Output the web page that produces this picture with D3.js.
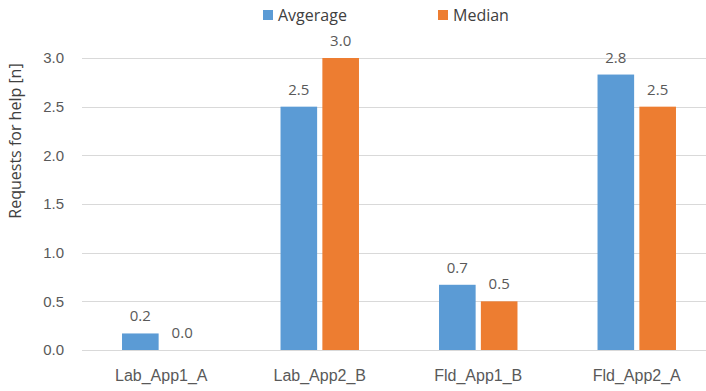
<!DOCTYPE html>
<html>
<head>
<meta charset="utf-8">
<script src="https://cdn.jsdelivr.net/npm/d3@7"></script>
<style>
  html, body { margin: 0; padding: 0; background: #fff; }
  svg { display: block; font-family: "Open Sans", "DejaVu Sans", sans-serif; }
</style>
</head>
<body>
<svg id="chart" width="706" height="391"></svg>
<script>
// Requests for help per condition
const categories = ["Lab_App1_A", "Lab_App2_B", "Fld_App1_B", "Fld_App2_A"];
const seriesNames = ["Avgerage", "Median"];
const averageValues = [0.17, 2.5, 0.67, 2.83];
const medianValues = [0.0, 3.0, 0.5, 2.5];
const yTicks = [0, 0.5, 1.0, 1.5, 2.0, 2.5, 3.0];
const colors = ["#5B9BD5", "#ED7D31"];

const seriesValues = [averageValues, medianValues];
const rows = categories.map((c, i) => ({
  category: c,
  values: seriesNames.map((s, k) => ({ series: s, key: k, value: seriesValues[k][i] }))
}));

const svg = d3.select("#chart");
const margin = { left: 82, right: -10, top: 58, bottom: 41 };
const width = 706, height = 391;
const plotW = width - margin.left - margin.right;
const plotH = height - margin.top - margin.bottom;

const x = d3.scaleBand().domain(categories).range([margin.left, margin.left + plotW]).paddingInner(0.505).paddingOuter(0.2525);
const x1 = d3.scaleBand().domain([0, 1]).range([0, x.bandwidth()]).paddingInner(0.125);
const y = d3.scaleLinear().domain([0, 3]).range([margin.top + plotH, margin.top]);

const textColor = "#595959";

// gridlines
svg.append("g").selectAll("line").data(yTicks).join("line")
  .attr("x1", margin.left).attr("x2", margin.left + plotW)
  .attr("y1", d => Math.round(y(d)) + 0.5).attr("y2", d => Math.round(y(d)) + 0.5)
  .attr("stroke", "#D9D9D9").attr("stroke-width", 1);

// y axis labels
const yAxis = d3.axisLeft(y).tickValues(yTicks).tickFormat(d3.format(".1f")).tickSize(0).tickPadding(18);
const yg = svg.append("g").attr("transform", `translate(${margin.left},0)`).call(yAxis);
yg.select(".domain").remove();
yg.selectAll("text").attr("fill", textColor).style("font-size", "15px").attr("font-family", null);

// x axis labels
const xAxis = d3.axisBottom(x).tickSize(0).tickPadding(20);
const xg = svg.append("g").attr("transform", `translate(0,${margin.top + plotH})`).call(xAxis);
xg.select(".domain").remove();
xg.selectAll("text").attr("fill", textColor).style("font-size", "16px").attr("font-family", null);

// bars
const groups = svg.append("g").selectAll("g").data(rows).join("g")
  .attr("transform", d => `translate(${x(d.category)},0)`);

groups.selectAll("rect").data(d => d.values).join("rect")
  .attr("x", d => x1(d.key))
  .attr("width", x1.bandwidth())
  .attr("y", d => y(d.value))
  .attr("height", d => y(0) - y(d.value))
  .attr("fill", d => colors[d.key]);

// value labels
groups.selectAll("text").data(d => d.values).join("text")
  .attr("x", d => x1(d.key) + x1.bandwidth() / 2)
  .attr("y", d => y(d.value) - 12)
  .attr("text-anchor", "middle")
  .attr("fill", textColor)
  .style("font-size", "15px")
  .text(d => d3.format(".1f")(d.value));

// y axis title
svg.append("text")
  .attr("transform", `translate(21,${141}) rotate(-90)`)
  .attr("text-anchor", "middle")
  .attr("fill", "#404040")
  .style("font-size", "16px")
  .text("Requests for help [n]");

// legend
const legendX = [263, 438];
const legend = svg.append("g").selectAll("g").data(seriesNames).join("g")
  .attr("transform", (d, i) => `translate(${legendX[i]},10)`);
legend.append("rect").attr("width", 10).attr("height", 10).attr("fill", (d, i) => colors[i]);
legend.append("text").attr("x", 15).attr("y", 11)
  .attr("fill", "#404040").style("font-size", "16px").text(d => d);
</script>
</body>
</html>
